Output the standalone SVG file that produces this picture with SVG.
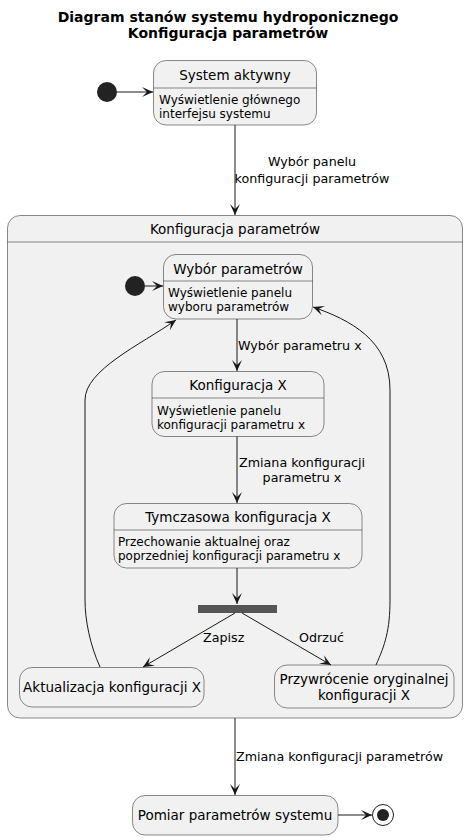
<svg xmlns="http://www.w3.org/2000/svg" width="468" height="840" viewBox="0 0 468 840">
<defs>
<marker id="ah" viewBox="0 0 12 10" refX="11" refY="5" markerWidth="12" markerHeight="10" markerUnits="userSpaceOnUse" orient="auto">
<path d="M0,0 L11,5 L0,10 L5,5 Z" fill="#181818"/>
</marker>
</defs>
<style>
.st{fill:#F1F1F1;stroke:#181818;stroke-width:0.5}
.ln{stroke:#181818;stroke-width:0.5}
.t{font-family:"DejaVu Sans",sans-serif;fill:#000}
.nm{font-size:13.5px}
.bd{font-size:12px}
.lb{font-size:12.7px}
.ttl{font-size:14px;font-weight:bold}
.e{fill:none;stroke:#181818;stroke-width:1}
.dot{fill:#222}
</style>
<rect width="468" height="840" fill="#fff"/>
<g id="title">
<text class="t ttl" x="228" y="22" text-anchor="middle">Diagram stanów systemu hydroponicznego</text>
<text class="t ttl" x="228" y="38" text-anchor="middle">Konfiguracja parametrów</text>
</g>
<g id="start1"><circle class="dot" cx="107" cy="92" r="10"/></g>
<g id="systemAktywny">
<rect class="st" x="153.5" y="60.5" width="163" height="64.5" rx="12.5"/>
<line class="ln" x1="153.5" y1="88" x2="316.5" y2="88"/>
<text class="t nm" x="235" y="80" text-anchor="middle">System aktywny</text>
<text class="t bd" x="159" y="103.5">Wyświetlenie głównego</text>
<text class="t bd" x="159" y="117.5">interfejsu systemu</text>
</g>
<g id="konfiguracjaParametrow">
<rect class="st" x="7.5" y="215.5" width="455" height="502.5" rx="12.5"/>
<line class="ln" x1="7.5" y1="242" x2="462.5" y2="242"/>
<text class="t nm" x="235" y="234" text-anchor="middle">Konfiguracja parametrów</text>
</g>
<g id="start2"><circle class="dot" cx="135" cy="286" r="10"/></g>
<g id="wyborParametrow">
<rect class="st" x="163.5" y="254.5" width="149" height="64.5" rx="12.5"/>
<line class="ln" x1="163.5" y1="281" x2="312.5" y2="281"/>
<text class="t nm" x="238" y="274" text-anchor="middle">Wybór parametrów</text>
<text class="t bd" x="168" y="297">Wyświetlenie panelu</text>
<text class="t bd" x="168" y="311">wyboru parametrów</text>
</g>
<g id="konfiguracjaX">
<rect class="st" x="152" y="371.5" width="172" height="65" rx="12.5"/>
<line class="ln" x1="152" y1="398" x2="324" y2="398"/>
<text class="t nm" x="238" y="390" text-anchor="middle">Konfiguracja X</text>
<text class="t bd" x="157" y="414.5">Wyświetlenie panelu</text>
<text class="t bd" x="157" y="428.5">konfiguracji parametru x</text>
</g>
<g id="tymczasowaX">
<rect class="st" x="114" y="503.5" width="248" height="64.5" rx="12.5"/>
<line class="ln" x1="114" y1="530" x2="362" y2="530"/>
<text class="t nm" x="238" y="522" text-anchor="middle">Tymczasowa konfiguracja X</text>
<text class="t bd" x="118" y="546">Przechowanie aktualnej oraz</text>
<text class="t bd" x="118" y="560">poprzedniej konfiguracji parametru x</text>
</g>
<g id="fork"><rect x="198" y="605" width="79" height="8" fill="#555"/></g>
<g id="aktualizacja">
<rect class="st" x="19.5" y="667.5" width="184.5" height="39.5" rx="12.5"/>
<text class="t nm" x="112" y="692" text-anchor="middle">Aktualizacja konfiguracji X</text>
</g>
<g id="przywrocenie">
<rect class="st" x="274.5" y="665" width="179.5" height="43" rx="12.5"/>
<text class="t nm" x="364" y="684" text-anchor="middle">Przywrócenie oryginalnej</text>
<text class="t nm" x="364" y="700" text-anchor="middle">konfiguracji X</text>
</g>
<g id="pomiar">
<rect class="st" x="132.5" y="795.5" width="205.5" height="39.5" rx="12.5"/>
<text class="t nm" x="235" y="820" text-anchor="middle">Pomiar parametrów systemu</text>
</g>
<g id="end"><circle cx="383" cy="815" r="10.5" fill="none" stroke="#222" stroke-width="1"/><circle class="dot" cx="383" cy="815" r="6"/></g>
<g id="connectors">
<line class="e" x1="117" y1="92" x2="153" y2="92" marker-end="url(#ah)"/>
<line class="e" x1="235" y1="125" x2="235" y2="215" marker-end="url(#ah)"/>
<text class="t lb" x="312" y="166" text-anchor="middle">Wybór panelu</text>
<text class="t lb" x="312" y="183" text-anchor="middle">konfiguracji parametrów</text>
<line class="e" x1="145" y1="286" x2="163" y2="286" marker-end="url(#ah)"/>
<line class="e" x1="237" y1="319" x2="237" y2="371" marker-end="url(#ah)"/>
<text class="t lb" x="238" y="350">Wybór parametru x</text>
<line class="e" x1="237" y1="436.5" x2="237" y2="503" marker-end="url(#ah)"/>
<text class="t lb" x="302" y="467" text-anchor="middle">Zmiana konfiguracji</text>
<text class="t lb" x="302" y="482" text-anchor="middle">parametru x</text>
<line class="e" x1="237" y1="568" x2="237" y2="604" marker-end="url(#ah)"/>
<line class="e" x1="235" y1="613" x2="143" y2="667" marker-end="url(#ah)"/>
<text class="t lb" x="203" y="642">Zapisz</text>
<line class="e" x1="242" y1="613" x2="331" y2="665" marker-end="url(#ah)"/>
<text class="t lb" x="299" y="642">Odrzuć</text>
<path class="e" d="M100,667 C90,645 85,620 85,600 L85,400 C85,370 140,345 176,320" marker-end="url(#ah)"/>
<path class="e" d="M376,665 C385,645 390,630 390,600 L390,390 C390,340 350,320 313,307" marker-end="url(#ah)"/>
<line class="e" x1="235" y1="718" x2="235" y2="795" marker-end="url(#ah)"/>
<text class="t lb" x="236" y="761">Zmiana konfiguracji parametrów</text>
<line class="e" x1="338" y1="815" x2="372" y2="815" marker-end="url(#ah)"/>
</g>
</svg>
